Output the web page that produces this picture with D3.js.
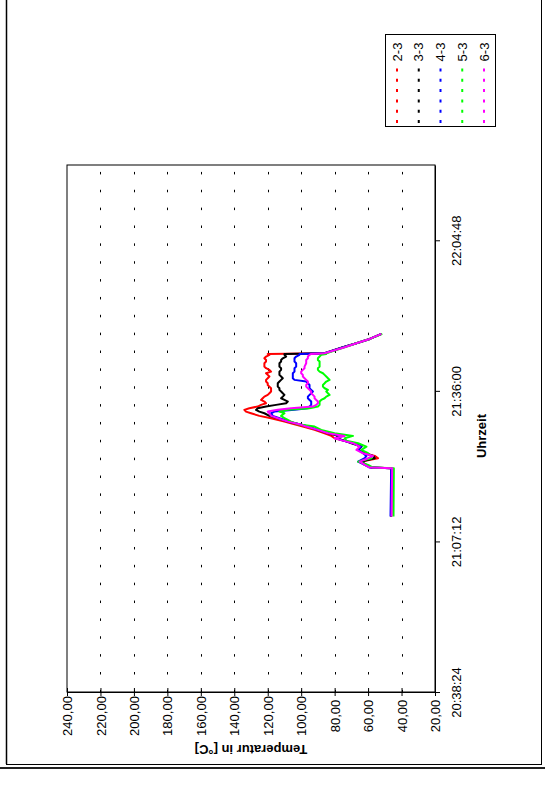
<!DOCTYPE html>
<html>
<head>
<meta charset="utf-8">
<script src="https://cdn.jsdelivr.net/npm/d3@7"></script>
<style>
body { margin: 0; background: #fff; }
svg text { font-family: "Liberation Sans", Arial, sans-serif; }
</style>
</head>
<body>
<div id="chart-area"></div>
<script>
// page size
let width = 545,
	height = 795;

// series
let seriesNames = ["2-3", "3-3", "4-3", "5-3", "6-3"];
let seriesColors = ["#ff0000", "#000000", "#0000ff", "#00ff00", "#ff00ff"];

// axis ticks
let tempTicks = [20, 40, 60, 80, 100, 120, 140, 160, 180, 200, 220, 240];
let timeTicks = ["20:38:24", "21:07:12", "21:36:00", "22:04:48"];
let timeDomain = ["20:38:24", "22:19:12"];

// logger time stamps (Uhrzeit)
let times = ["21:11:57","21:21:11","21:21:19","21:21:50","21:22:28","21:23:07","21:23:33","21:24:04","21:24:42","21:25:20",
	"21:25:59","21:26:29","21:26:56","21:27:23","21:27:53","21:28:32","21:29:10","21:29:37","21:30:07","21:30:46",
	"21:31:13","21:31:43","21:32:02","21:32:22","21:32:41","21:33:00","21:33:19","21:33:38","21:33:57","21:34:16",
	"21:34:35","21:34:54","21:35:14","21:35:33","21:35:52","21:36:11","21:36:30","21:36:49","21:37:08","21:37:27",
	"21:37:47","21:38:06","21:38:25","21:38:44","21:39:03","21:39:22","21:39:41","21:40:01","21:40:20","21:40:38",
	"21:41:17","21:41:36","21:41:55","21:42:14","21:42:34","21:42:53","21:43:04","21:43:12","21:44:21","21:45:07",
	"21:45:56","21:46:54"];

// temperatures in °C
let temp23 = [46.2,46.0,58,62,64,54,56,62,66,64, 69,75,80,82,86,92,99,104,110,118,
	125,130,133,134,131,126,124,121,122,124, 123,122,120,119,118,118,118,119,120,120,
	121,121,120,119,120,121,118,119,121,122, 122,121,121,122,121,119,120,86,75,67, 59,52];
let temp33 = [46.2,46.0,58,61,64,56,57,62,66,64, 70,74,79,78,84,90,96,101,108,114,
	119,122,125,127,126,121,115,109,108,110, 112,111,110,111,112,113,113,114,114,114,
	113,112,111,112,113,113,113,112,112,113, 113,112,112,111,109,110,110,86,75,67, 59,52];
let temp43 = [46.6,46.2,59,62,66,62,61,63,66,64, 69,75,79,75,83,90,96,101,107,113,
	117,118,116,104,96,95,94,94,94,95, 96,96,95,94,93,94,95,95,95,96,
	97,104,105,105,105,105,104,104,104,103, 103,104,104,104,103,101,101,86,75,67, 59,52];
let temp53 = [44.8,44.6,57,60,66,58,58,60,64,61, 66,73,74,69,80,88,92,102,106,110,
	112,110,113,108,95,90,89,89,89,88, 86,85,83,84,85,84,86,87,87,86,
	85,83,84,85,86,87,89,90,90,89, 89,89,90,90,89,88,85,85,74,67, 59,51.5];
let temp63 = [46.0,45.6,59,62,65,60,57,63,67,65, 69,75,80,74,84,90,97,101,108,114,
	118,119,120,114,106,93,91,90,90,91, 92,92,93,94,94,95,96,97,97,96,
	96,97,98,99,99,100,100,99,98,98, 97,97,97,96,96,95,94,86,74,67, 59,52];

let allTemps = [temp23, temp33, temp43, temp53, temp63];

function dayFrac(s) {
	let p = s.split(":").map(Number);
	return (p[0] * 3600 + p[1] * 60 + p[2]) / 86400;
}

drawChart();

function drawChart() {
	let svg = d3.select("#chart-area").append("svg").attr("width", width).attr("height", height);

	// plot area (the printed chart is turned by 90°: time runs upward, temperature leftward)
	let plot = {left: 67, right: 435, top: 165, bottom: 692};

	let tempScale = d3.scaleLinear().domain([20, 240]).range([plot.right, plot.left]);
	let timeScale = d3.scaleLinear().domain(timeDomain.map(dayFrac)).range([plot.bottom, plot.top]);

	// page frame
	svg.append("line").attr("x1", 6.5).attr("x2", 6.5).attr("y1", 0).attr("y2", 764)
		.attr("stroke", "#000").attr("stroke-width", 1.5);
	svg.append("line").attr("x1", 541.5).attr("x2", 541.5).attr("y1", 0).attr("y2", 764)
		.attr("stroke", "#000").attr("stroke-width", 1);
	svg.append("line").attr("x1", 6).attr("x2", 542).attr("y1", 764.5).attr("y2", 764.5)
		.attr("stroke", "#000").attr("stroke-width", 1);
	svg.append("line").attr("x1", 0).attr("x2", width).attr("y1", 768).attr("y2", 768)
		.attr("stroke", "#222").attr("stroke-width", 2);

	svg.append("rect")
		.attr("x", plot.left).attr("y", plot.top)
		.attr("width", plot.right - plot.left).attr("height", plot.bottom - plot.top)
		.attr("fill", "#fff").attr("stroke", "#000");

	// dotted grid lines
	svg.selectAll(".grid")
		.data(tempTicks.filter(d => d > 20 && d < 240))
		.enter()
		.append("line")
		.attr("class", "grid")
		.attr("x1", d => Math.round(tempScale(d)) + 0.5)
		.attr("x2", d => Math.round(tempScale(d)) + 0.5)
		.attr("y1", plot.bottom)
		.attr("y2", plot.top)
		.attr("stroke", "#000")
		.attr("stroke-dasharray", "2.5,15.36")
		.attr("stroke-dashoffset", 0.36);

	// series lines
	let line = d3.line()
		.x(d => tempScale(d.temp))
		.y(d => timeScale(d.time));

	allTemps.forEach((temps, i) => {
		let pts = times.map((t, j) => ({time: dayFrac(t), temp: temps[j]}));
		svg.append("path")
			.datum(pts)
			.attr("d", line)
			.attr("fill", "none")
			.attr("stroke", seriesColors[i])
			.attr("stroke-width", 2)
			.attr("stroke-linejoin", "round");
	});

	// temperature axis (bottom of page)
	let tempAxis = d3.axisBottom(tempScale)
		.tickValues(tempTicks)
		.tickFormat(d => d.toFixed(2).replace(".", ","))
		.tickSize(4)
		.tickSizeOuter(0);

	let gT = svg.append("g")
		.attr("class", "axis x-axis")
		.attr("transform", "translate(0," + plot.bottom + ")")
		.call(tempAxis);
	gT.selectAll(".tick line").attr("y1", -4).attr("y2", 4).attr("stroke", "#000");
	gT.selectAll(".tick text")
		.attr("x", 0).attr("y", 0).attr("dy", "0.35em")
		.attr("text-anchor", "middle")
		.attr("transform", "translate(0,24) rotate(-90)")
		.attr("font-size", 13)
		.attr("fill", "#000");
	gT.select(".domain").attr("stroke", "#000");

	// time axis (right side of page)
	let timeAxis = d3.axisRight(timeScale)
		.tickValues(timeTicks.map(dayFrac))
		.tickFormat((d, i) => timeTicks[i])
		.tickSize(5)
		.tickSizeOuter(0);

	let gY = svg.append("g")
		.attr("class", "axis y-axis")
		.attr("transform", "translate(" + plot.right + ",0)")
		.call(timeAxis);
	gY.selectAll(".tick text")
		.attr("x", 0).attr("y", 0).attr("dy", "0.35em")
		.attr("text-anchor", "middle")
		.attr("transform", "translate(21,0) rotate(-90)")
		.attr("font-size", 13)
		.attr("fill", "#000");
	gY.selectAll(".tick line").attr("stroke", "#000");
	gY.select(".domain").attr("stroke", "#000");

	// axis titles
	svg.append("text")
		.attr("text-anchor", "middle")
		.attr("dy", "0.35em")
		.attr("transform", "translate(481,436) rotate(-90)")
		.attr("font-size", 13)
		.attr("font-weight", "bold")
		.text("Uhrzeit");

	svg.append("text")
		.attr("text-anchor", "middle")
		.attr("dy", "0.35em")
		.attr("transform", "translate(" + (plot.left + plot.right) / 2 + ",750) rotate(180)")
		.attr("font-size", 13)
		.attr("font-weight", "bold")
		.text("Temperatur in [°C]");

	// legend
	let legend = svg.append("g").attr("class", "legend");
	legend.append("rect")
		.attr("x", 385.5).attr("y", 34.5).attr("width", 110).attr("height", 92)
		.attr("fill", "#fff").attr("stroke", "#000");

	let legendX = d3.scalePoint().domain(seriesNames).range([397, 484]);

	seriesNames.forEach((name, i) => {
		legend.append("text")
			.attr("text-anchor", "middle")
			.attr("dy", "0.35em")
			.attr("transform", "translate(" + legendX(name) + ",52) rotate(-90)")
			.attr("font-size", 13)
			.text(name);
		legend.append("line")
			.attr("x1", legendX(name)).attr("x2", legendX(name))
			.attr("y1", 123).attr("y2", 66)
			.attr("stroke", seriesColors[i])
			.attr("stroke-width", 2)
			.attr("stroke-dasharray", "3,7.3");
	});
}
</script>
</body>
</html>
